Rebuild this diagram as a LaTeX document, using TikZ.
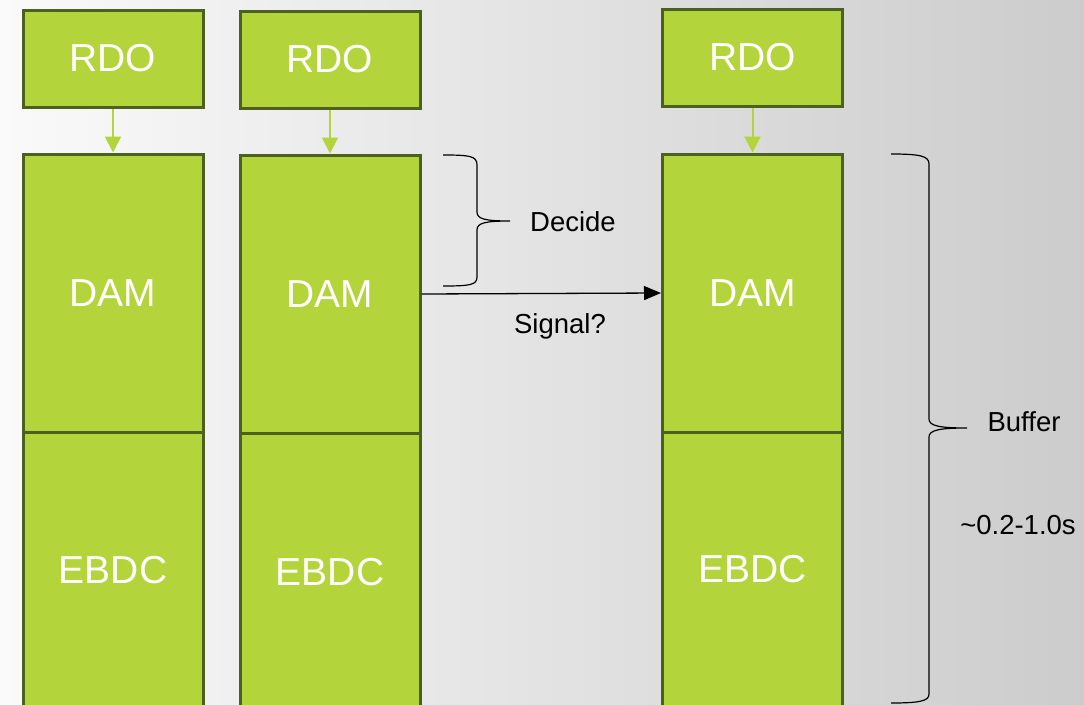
\documentclass[tikz,border=0pt]{standalone}
\usepackage{fontspec}
\setmainfont{Liberation Sans}
\usetikzlibrary{arrows.meta}
\definecolor{boxfill}{HTML}{B3D43B}
\definecolor{boxline}{HTML}{4C6020}
\begin{document}
\begin{tikzpicture}[x=1pt,y=-1pt,
  box/.style={draw=boxline, fill=boxfill, line width=3pt, minimum width=180pt,
    inner sep=0pt, text=white, font=\fontsize{39}{46}\selectfont},
  garrow/.style={draw=boxfill, line width=2pt, -{Triangle[length=16pt,width=16pt]}},
  sarrow/.style={draw=black, line width=1.3pt, -{Triangle[length=17pt,width=14pt]}},
  lbl/.style={text=black, inner sep=0pt, font=\fontsize{27.5}{33}\selectfont},
  bracepath/.style={draw=black, line width=1.2pt}]
\useasboundingbox (0,0) rectangle (1084,704);
\clip (0,0) rectangle (1084,704);
\shade[left color=black!2, right color=black!20] (0,0) rectangle (1084,704);
% column 1
\node[box, minimum height=97pt] (rdo1) at (113,58.5) {RDO};
\node[box, minimum height=278pt] (dam1) at (113,293) {DAM};
\node[box, minimum height=276pt] (ebdc1) at (113,570) {EBDC};
% column 2
\node[box, minimum height=97pt] (rdo2) at (330,59.5) {RDO};
\node[box, minimum height=278pt] (dam2) at (330,294) {DAM};
\node[box, minimum height=278pt] (ebdc2) at (330,572) {EBDC};
% column 3
\node[box, minimum height=97pt] (rdo3) at (752.5,57.5) {RDO};
\node[box, minimum height=278pt] (dam3) at (752.5,293) {DAM};
\node[box, minimum height=274pt] (ebdc3) at (752.5,569) {EBDC};
% green arrows
\draw[garrow] (rdo1.south) -- (dam1.north);
\draw[garrow] (rdo2.south) -- (dam2.north);
\draw[garrow] (rdo3.south) -- (dam3.north);
% signal arrow
\draw[sarrow] (dam2.east) -- (dam3.west);
\node[lbl] (signal) at (560,326) {Signal?};
% decide brace
\draw[bracepath] (443,155) .. controls (470,155) and (477,156) .. (477,165)
  -- (477,212) .. controls (477,219) and (485,221) .. (510,221)
  .. controls (485,221) and (477,223) .. (477,230)
  -- (477,277) .. controls (477,285) and (470,286) .. (443,286);
\node[lbl] (decide) at (573,222) {Decide};
% buffer brace
\draw[bracepath] (891,154) .. controls (920,154) and (929,156) .. (929,164)
  -- (929,419) .. controls (929,426) and (940,428) .. (967,428)
  .. controls (940,428) and (929,430) .. (929,437)
  -- (929,694) .. controls (929,701) and (920,703) .. (891,703);
\node[lbl] (buffer) at (1024,422) {Buffer};
\node[lbl] (time) at (1018,525) {\char`~0.2-1.0s};
\end{tikzpicture}
\end{document}
